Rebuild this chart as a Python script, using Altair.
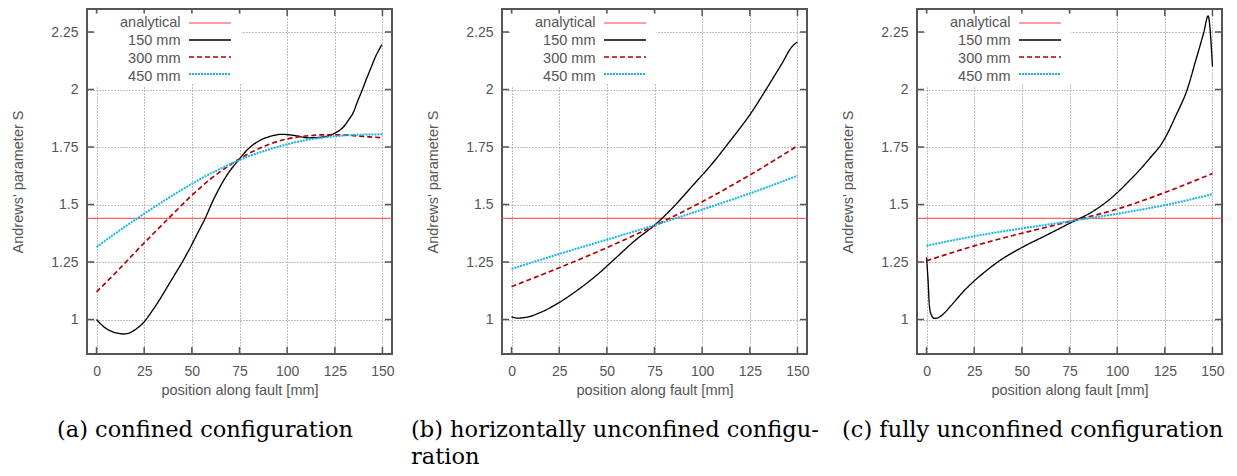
import altair as alt
import pandas as pd

# ---------------- data ----------------
SERIES = ["analytical", "150 mm", "300 mm", "450 mm"]
COLORS = ["#ff3b3b", "#000000", "#b00000", "#17b5ec"]
DASHES = [[1, 0], [1, 0], [5, 3], [2, 1]]
WIDTHS = [1, 2, 2, 2]

X_TICKS = [0, 25, 50, 75, 100, 125, 150]
Y_TICKS = [1.0, 1.25, 1.5, 1.75, 2.0, 2.25]

X_TITLE = "position along fault [mm]"
Y_TITLE = "Andrews' parameter S"

# analytical value: constant across the whole plotted range
ANA_X = [-5, 155]
ANA_S = [1.44, 1.44]

# (a) confined configuration
A150_X = [0, 4, 8, 12, 14, 17, 21, 25, 29, 33, 37, 41, 45, 49, 53, 57, 61, 65, 69, 74, 80, 86, 92, 97,
          104, 111, 117, 122, 126, 129.5, 132, 134.7, 137, 139, 141.8, 144, 146.2, 148, 149.7]
A150_S = [1.0, 0.967, 0.948, 0.939, 0.937, 0.941, 0.96, 0.99, 1.035, 1.085, 1.14, 1.195, 1.25, 1.31,
          1.375, 1.44, 1.515, 1.58, 1.635, 1.688, 1.745, 1.78, 1.798, 1.805, 1.80, 1.79, 1.792, 1.80,
          1.815, 1.837, 1.865, 1.90, 1.95, 1.99, 2.05, 2.095, 2.14, 2.17, 2.195]
A300_X = [0, 10, 20, 30, 40, 50, 60, 70, 80, 90, 100, 110, 120, 130, 140, 150]
A300_S = [1.12, 1.203, 1.29, 1.375, 1.458, 1.54, 1.612, 1.672, 1.722, 1.76, 1.785, 1.798, 1.803,
          1.802, 1.796, 1.79]
A450_X = [0, 10, 20, 30, 40, 50, 60, 70, 80, 90, 100, 110, 120, 130, 140, 150]
A450_S = [1.315, 1.375, 1.432, 1.487, 1.54, 1.59, 1.635, 1.675, 1.71, 1.738, 1.762, 1.78, 1.792,
          1.80, 1.804, 1.805]

# (b) horizontally unconfined configuration
B150_X = [0, 3, 8, 15, 25, 35, 45, 55, 65, 75, 85, 95, 105, 115, 125, 135, 142, 147, 150]
B150_S = [1.012, 1.006, 1.01, 1.03, 1.074, 1.13, 1.195, 1.27, 1.345, 1.41, 1.49, 1.582, 1.675,
          1.78, 1.89, 2.02, 2.115, 2.185, 2.207]
B300_X = [0, 25, 50, 75, 100, 125, 150]
B300_S = [1.143, 1.225, 1.312, 1.408, 1.512, 1.628, 1.755]
B450_X = [0, 25, 50, 75, 100, 125, 150]
B450_S = [1.22, 1.285, 1.347, 1.41, 1.478, 1.548, 1.625]

# (c) fully unconfined configuration
C150_X = [0, 0.8, 1.5, 2.5, 4, 5.5, 8, 12.6, 19.6, 24.8, 30, 37, 50, 63, 75, 88, 98, 106, 112, 117,
          124, 131, 137, 141, 145.5, 147.7, 150]
C150_S = [1.27, 1.17, 1.06, 1.02, 1.005, 1.006, 1.018, 1.058, 1.124, 1.166, 1.203, 1.248, 1.313, 1.367,
          1.418, 1.474, 1.536, 1.600, 1.652, 1.70, 1.773, 1.89, 2.006, 2.12, 2.25, 2.32, 2.10]
C300_X = [0, 25, 50, 75, 100, 125, 150]
C300_S = [1.255, 1.32, 1.375, 1.426, 1.48, 1.552, 1.635]
C450_X = [0, 25, 50, 75, 100, 125, 150]
C450_S = [1.321, 1.362, 1.396, 1.427, 1.46, 1.497, 1.545]

CAPTIONS = [["(a) confined configuration"],
            ["(b) horizontally unconfined configu-", "ration"],
            ["(c) fully unconfined configuration"]]
CAPTION_DX = [-30, -91, -75]

PANELS = [
    [(ANA_X, ANA_S), (A150_X, A150_S), (A300_X, A300_S), (A450_X, A450_S)],
    [(ANA_X, ANA_S), (B150_X, B150_S), (B300_X, B300_S), (B450_X, B450_S)],
    [(ANA_X, ANA_S), (C150_X, C150_S), (C300_X, C300_S), (C450_X, C450_S)],
]

# ---------------- styling ----------------
W, H = 305, 345
SANS = "Liberation Sans"
SERIF = "DejaVu Serif"
GREY = "#555555"
TICK_LEN = 7

x_scale = alt.Scale(domain=[-5, 155], nice=False, zero=False)
y_scale = alt.Scale(domain=[0.85, 2.35], nice=False, zero=False)

x_axis = alt.Axis(values=X_TICKS, title=X_TITLE, grid=True, ticks=False, tickSize=0, domain=False,
                  labelPadding=10, titlePadding=5, labelFlush=False)
y_axis = alt.Axis(values=Y_TICKS, format=".3~g", title=Y_TITLE, grid=True, ticks=False, tickSize=0,
                  domain=False, labelPadding=9, titlePadding=25, labelFlush=False)

# gnuplot-style key: line samples on the right (legend A, its labels hidden) and
# right-aligned texts on the left (legend B, its symbols hidden)
legend_lines = alt.Legend(title=None, orient="none", legendX=94.5, legendY=4.5, fillColor="white",
                          padding=2, symbolType="stroke", symbolSize=1764, symbolOffset=4.5,
                          labelAlign="right", labelOffset=7, labelOpacity=0, labelFontSize=8,
                          clipHeight=15, rowPadding=2, labelLimit=0)
legend_text = alt.Legend(title=None, orient="none", legendX=8, legendY=4.5, fillColor="white",
                         padding=2, symbolType="stroke", symbolSize=0, symbolStrokeWidth=0,
                         symbolOpacity=0, symbolOffset=0, labelAlign="right", labelOffset=69,
                         clipHeight=15, rowPadding=2, labelFont=SANS, labelFontSize=14.5,
                         labelColor=GREY, labelLimit=0)


def enc_x():
    return alt.X("x:Q", scale=x_scale, axis=x_axis)


def enc_y():
    return alt.Y("S:Q", scale=y_scale, axis=y_axis)


def panel(i):
    rows = []
    for name, (xs, ss) in zip(SERIES, PANELS[i]):
        for xv, sv in zip(xs, ss):
            rows.append({"x": xv, "S": sv, "series": name})
    df = pd.DataFrame(rows)

    lines = alt.Chart(df).mark_line(interpolate="monotone").encode(
        x=enc_x(), y=enc_y(), detail="series:N",
        color=alt.Color("series:N", scale=alt.Scale(domain=SERIES, range=COLORS), legend=legend_lines),
        strokeDash=alt.StrokeDash("series:N", scale=alt.Scale(domain=SERIES, range=DASHES),
                                  legend=legend_lines),
        strokeWidth=alt.StrokeWidth("series:N", scale=alt.Scale(domain=SERIES, range=WIDTHS),
                                    legend=legend_lines),
        opacity=alt.Opacity("series:N", sort=SERIES, scale=alt.Scale(range=[1, 1]),
                            legend=legend_text),
    )

    xt = pd.DataFrame({"x": X_TICKS})
    yt = pd.DataFrame({"S": Y_TICKS})
    tb = alt.Chart(xt).mark_rule(color=GREY, strokeWidth=1.5).encode(
        x=enc_x(), y=alt.value(H), y2=alt.value(H - TICK_LEN))
    tt = alt.Chart(xt).mark_rule(color=GREY, strokeWidth=1.5).encode(
        x=enc_x(), y=alt.value(0), y2=alt.value(TICK_LEN))
    tl = alt.Chart(yt).mark_rule(color=GREY, strokeWidth=1.5).encode(
        y=enc_y(), x=alt.value(0), x2=alt.value(TICK_LEN))
    tr = alt.Chart(yt).mark_rule(color=GREY, strokeWidth=1.5).encode(
        y=enc_y(), x=alt.value(W), x2=alt.value(W - TICK_LEN))

    return alt.layer(lines, tb, tt, tl, tr).properties(
        width=W, height=H,
        title=alt.TitleParams(text=CAPTIONS[i], orient="bottom", anchor="start", frame="group",
                              dx=CAPTION_DX[i], offset=22, font=SERIF, fontSize=22.5,
                              fontWeight="normal", color="black", lineHeight=27),
    )


chart = alt.hconcat(panel(0), panel(1), panel(2), spacing=110, bounds="flush").resolve_scale(
    x="independent", y="independent", color="independent", strokeDash="independent",
    strokeWidth="independent", opacity="independent").resolve_legend(
    color="independent", strokeDash="independent", strokeWidth="independent",
    opacity="independent").properties(
    padding={"left": 1, "top": -1, "right": 0, "bottom": 0}
).configure_view(stroke=GREY, strokeWidth=2).configure_axis(
    labelFont=SANS, labelFontSize=14, labelColor=GREY, titleFont=SANS, titleFontSize=14.5,
    titleColor=GREY, titleFontWeight="normal", gridColor="#808080", gridDash=[1, 2], gridWidth=1,
    gridOpacity=1)

chart.save("out.html", embed_options={"renderer": "svg", "actions": False})
